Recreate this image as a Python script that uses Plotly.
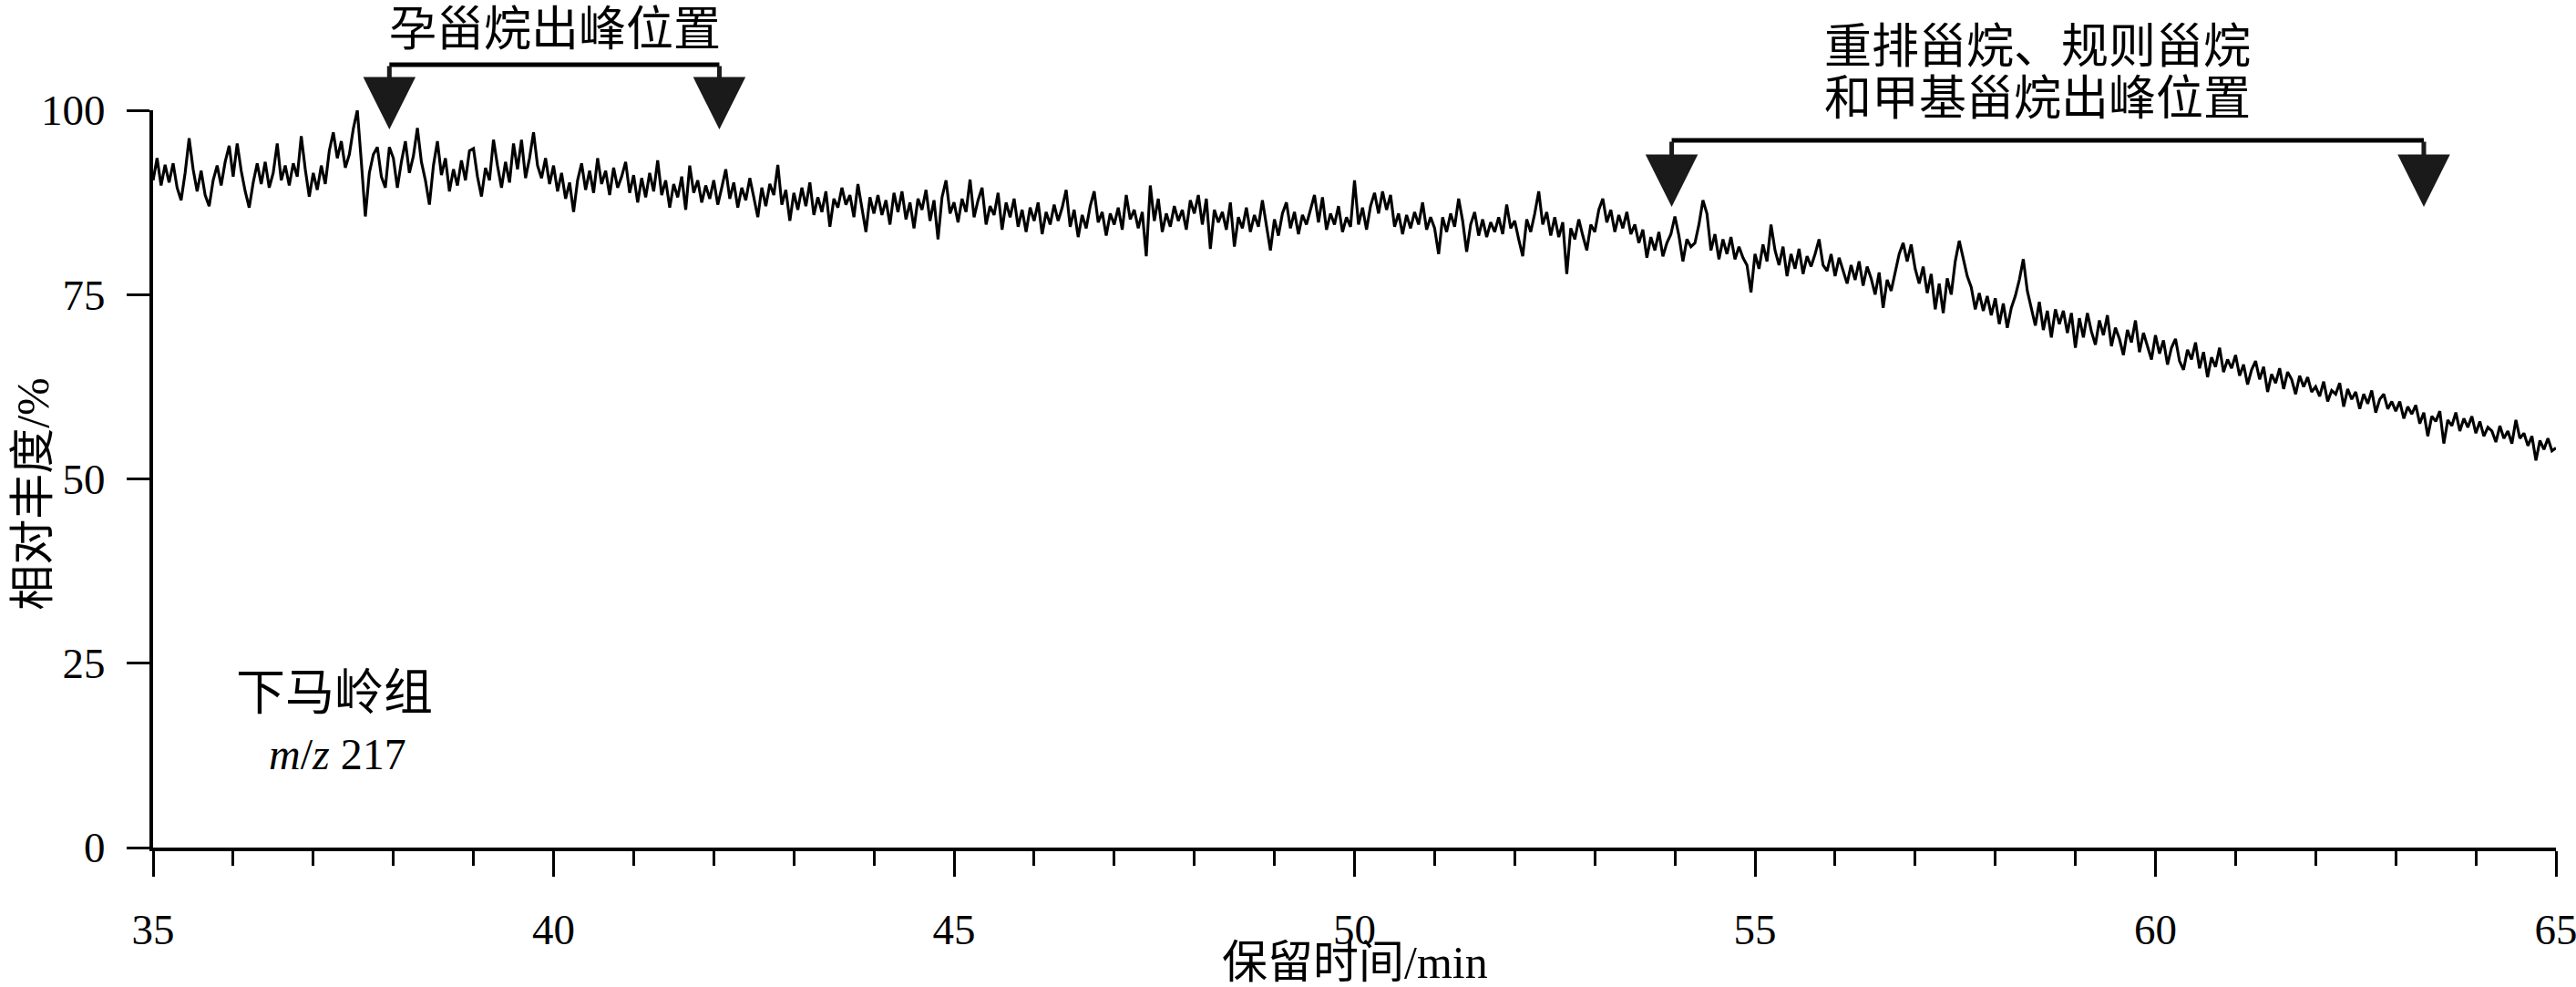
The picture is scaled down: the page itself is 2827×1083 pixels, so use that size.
import plotly.graph_objects as go

# ---------------- data ----------------
t_start = 35.0
t_step = 0.05

abundance = [
    # 35
    90.5, 93.5, 89.8, 92.6, 90.2, 92.8, 89.5, 87.8, 91.5, 96.2, 92.0, 89.0, 91.8, 88.5, 87.0, 90.5, 92.5, 89.8, 93.0, 95.2,
    # 36
    91.0, 95.5, 91.8, 89.0, 86.8, 90.2, 92.8, 90.0, 93.0, 89.5, 91.5, 95.5, 90.5, 92.5, 89.8, 92.8, 91.0, 96.5, 92.0, 88.3,
    # 37
    91.5, 89.2, 92.5, 90.0, 94.5, 97.0, 93.5, 95.8, 92.2, 94.0, 97.5, 100.0, 93.0, 85.6, 91.5, 94.0, 95.0, 91.0, 89.5, 95.0,
    # 38
    93.5, 89.5, 93.0, 95.8, 91.5, 93.8, 97.6, 93.0, 90.5, 87.2, 92.5, 95.8, 91.2, 93.5, 89.0, 92.0, 89.8, 93.2, 90.5, 94.5,
    # 39
    94.8, 91.0, 88.3, 92.2, 90.5, 96.0, 92.5, 89.5, 93.0, 90.2, 95.5, 92.0, 96.0, 90.8, 93.5, 97.0, 92.5, 90.8, 93.5, 90.0,
    # 40
    92.5, 89.0, 91.5, 88.0, 90.2, 86.2, 90.5, 92.8, 89.2, 91.8, 88.8, 93.5, 90.0, 91.8, 88.5, 92.2, 89.5, 91.0, 93.0, 88.8,
    # 41
    91.2, 87.5, 90.8, 88.2, 91.5, 89.0, 93.2, 88.5, 90.5, 86.8, 90.0, 88.2, 91.0, 86.5, 92.5, 88.8, 90.5, 87.5, 89.8, 88.0,
    # 42
    90.5, 87.2, 89.5, 92.0, 88.0, 90.2, 86.8, 89.5, 87.8, 90.8, 88.2, 85.5, 89.5, 87.0, 90.0, 88.5, 92.6, 87.2, 89.2, 85.0,
    # 43
    88.8, 86.5, 89.5, 87.0, 90.2, 85.8, 88.2, 86.2, 89.0, 84.2, 88.0, 86.8, 89.5, 87.2, 88.5, 85.5, 90.0, 86.5, 83.5, 88.2,
    # 44
    86.0, 88.5, 85.8, 87.8, 84.5, 88.8, 86.2, 89.0, 85.2, 87.5, 84.0, 88.0, 86.5, 89.2, 85.0, 87.8, 82.5, 88.2, 90.5, 86.0,
    # 45
    87.5, 84.8, 88.0, 86.2, 90.6, 85.5, 87.8, 89.5, 84.5, 87.0, 85.8, 88.8, 83.8, 87.5, 85.5, 88.0, 84.2, 86.5, 83.5, 86.8,
    # 46
    85.0, 87.5, 83.2, 86.2, 84.5, 87.2, 85.0, 86.8, 89.2, 84.2, 86.5, 82.8, 85.8, 84.0, 87.0, 89.0, 84.8, 86.2, 83.0, 86.0,
    # 47
    84.5, 86.8, 83.8, 88.5, 85.2, 86.5, 84.0, 86.2, 80.2, 89.8, 85.0, 88.0, 83.5, 86.0, 84.2, 87.0, 85.0, 86.5, 83.8, 87.8,
    # 48
    86.0, 88.5, 84.5, 88.0, 81.2, 86.5, 84.8, 86.2, 83.8, 87.5, 81.5, 85.5, 84.0, 86.8, 83.5, 85.8, 84.2, 87.8, 84.5, 81.0,
    # 49
    85.2, 83.0, 86.0, 87.5, 84.0, 86.2, 83.2, 85.8, 84.5, 86.5, 88.5, 84.8, 88.2, 83.8, 86.0, 84.5, 87.0, 83.5, 85.5, 84.2,
    # 50
    90.5, 84.5, 86.8, 83.8, 87.0, 88.8, 86.0, 89.0, 86.5, 88.5, 84.2, 86.0, 83.2, 85.8, 84.0, 86.2, 84.5, 87.5, 83.8, 85.5,
    # 51
    84.0, 80.5, 85.5, 83.5, 86.0, 84.2, 88.0, 85.0, 80.8, 84.5, 86.2, 83.0, 85.2, 82.8, 84.8, 83.5, 85.5, 83.2, 87.2, 84.0,
    # 52
    85.0, 82.5, 80.2, 85.2, 83.5, 86.0, 89.0, 84.5, 86.2, 83.0, 85.5, 82.8, 84.8, 77.8, 84.0, 82.5, 85.2, 83.0, 81.0, 84.5,
    # 53
    83.5, 86.5, 88.0, 84.8, 86.5, 83.5, 85.8, 84.0, 86.2, 83.2, 84.5, 82.0, 83.8, 80.0, 82.8, 81.0, 83.5, 80.2, 82.0, 83.2,
    # 54
    85.6, 83.0, 79.5, 82.5, 81.5, 82.0, 84.5, 87.8, 86.0, 81.0, 83.2, 79.8, 82.5, 80.5, 82.8, 79.8, 81.5, 80.0, 79.0, 75.3,
    # 55
    80.5, 78.5, 81.8, 79.5, 84.5, 81.0, 79.0, 81.5, 77.5, 80.5, 78.5, 81.2, 77.8, 80.2, 78.8, 80.5, 82.5, 79.0, 78.2, 80.5,
    # 56
    77.5, 80.0, 78.2, 76.5, 79.0, 77.0, 79.5, 76.2, 78.8, 77.2, 75.0, 78.0, 73.2, 77.0, 75.5, 78.0, 80.5, 82.0, 79.5, 81.8,
    # 57
    78.5, 76.5, 78.8, 75.2, 77.8, 73.0, 76.5, 72.5, 77.2, 75.0, 79.5, 82.3, 80.0, 77.5, 76.0, 73.0, 75.2, 72.8, 74.8, 72.2,
    # 58
    74.5, 71.0, 73.8, 70.5, 73.2, 74.8, 77.0, 79.8, 75.5, 73.0, 70.8, 74.0, 70.2, 72.8, 69.2, 73.0, 71.0, 72.8, 69.8, 72.5,
    # 59
    67.8, 71.8, 69.2, 72.5, 70.0, 68.2, 71.5, 69.5, 72.2, 68.0, 70.5, 69.0, 66.8, 70.2, 68.5, 71.5, 67.2, 69.8, 68.0, 66.2,
    # 60
    69.5, 67.0, 68.8, 65.5, 67.8, 69.0, 66.0, 64.8, 67.5, 66.2, 68.5, 65.0, 67.2, 63.8, 66.5, 65.2, 67.8, 64.5, 66.2, 65.0,
    # 61
    66.8, 64.0, 65.5, 62.8, 64.8, 66.0, 63.5, 65.2, 61.8, 64.2, 63.0, 65.0, 62.2, 64.5, 63.5, 61.5, 64.0, 62.5, 63.8, 61.8,
    # 62
    62.5, 61.2, 63.2, 60.5, 62.0, 61.5, 63.0, 59.8, 62.2, 60.8, 61.8, 59.5, 61.5, 60.2, 62.0, 59.0, 60.8, 61.5, 59.5, 60.5,
    # 63
    59.2, 60.5, 58.2, 59.8, 58.8, 60.0, 57.5, 59.0, 55.8, 58.5, 57.8, 59.2, 54.8, 58.0, 57.2, 59.0, 56.5, 58.2, 57.0, 58.5,
    # 64
    56.2, 57.8, 55.8, 57.0, 56.5, 55.0, 57.2, 55.5, 56.5, 54.8, 58.0, 55.5, 56.2, 54.5, 55.8, 52.5, 55.2, 54.0, 55.5, 53.8,
    # 65
    54.2,
]
retention_time = [round(t_start + i * t_step, 2) for i in range(len(abundance))]

x_ticks = [35, 40, 45, 50, 55, 60, 65]
y_ticks = [0, 25, 50, 75, 100]

label_pregnane = "孕甾烷出峰位置"
label_steranes_1 = "重排甾烷、规则甾烷"
label_steranes_2 = "和甲基甾烷出峰位置"
label_formation = "下马岭组"
label_mz = "<i>m</i>/<i>z</i> 217"
x_title = "保留时间/min"
y_title = "相对丰度/%"

# bracket extents (retention time, min)
pregnane_range = [37.95, 42.07]
sterane_range = [53.96, 63.35]

# ---------------- figure ----------------
FONT = "Liberation Serif, Times New Roman, Noto Sans CJK SC"
CJK = "Liberation Serif, Noto Sans CJK SC"
PLOT_H = 809  # plot area height in px (for pixel arrow lengths)

fig = go.Figure()
fig.add_trace(go.Scatter(
    x=retention_time, y=abundance, mode="lines",
    line=dict(color="black", width=3.1), hoverinfo="skip", showlegend=False,
))

axis_common = dict(
    showline=True, linecolor="black", linewidth=4, showgrid=False, zeroline=False,
    ticks="outside", tickcolor="black", tickwidth=3, automargin=False,
    tickfont=dict(family=FONT, size=47, color="black"),
)

fig.update_xaxes(
    range=[35, 65], tickvals=x_ticks, ticklen=28, ticklabelstandoff=18,
    ticklabeloverflow="allow",
    minor=dict(dtick=1, tick0=35, ticks="outside", ticklen=16, tickwidth=3, tickcolor="black"),
    **axis_common,
)
fig.update_yaxes(
    range=[0, 100], tickvals=y_ticks, ticklen=25, ticklabelstandoff=14,
    **axis_common,
)

shapes = []
annotations = []

def add_bracket(xr, y_top, y_tip):
    shapes.append(dict(type="line", xref="x", yref="paper",
                       x0=xr[0], x1=xr[1], y0=y_top, y1=y_top,
                       line=dict(color="black", width=5)))
    px = (y_top - y_tip) * PLOT_H
    for xv in xr:
        annotations.append(dict(
            x=xv, y=y_tip, xref="x", yref="paper", text="",
            showarrow=True, ax=0, ay=-px, axref="pixel", ayref="pixel",
            arrowhead=2, arrowsize=2.3, arrowwidth=5, arrowcolor="#1a1a1a",
            standoff=0,
        ))

add_bracket(pregnane_range, 1.0618, 0.974)
add_bracket(sterane_range, 0.9592, 0.869)

def text(x, y, s, size, xref="x", yref="paper", angle=0):
    annotations.append(dict(
        x=x, y=y, xref=xref, yref=yref, text=s, showarrow=False,
        textangle=angle, xanchor="center", yanchor="middle",
        font=dict(family=CJK, size=size, color="black"),
    ))

text(40.02, 1.109, label_pregnane, 52)
text(58.53, 1.0853, label_steranes_1, 52)
text(58.53, 1.016, label_steranes_2, 52)
text(37.26, 0.209, label_formation, 54)
text(37.3, 0.127, label_mz, 48)
text(0.5, -0.156, x_title, 50, xref="paper")
text(-0.05, 0.48, y_title, 50, xref="paper", angle=-90)

fig.update_layout(
    width=2827, height=1083,
    margin=dict(l=168, r=22, t=121, b=153, autoexpand=False),
    paper_bgcolor="white", plot_bgcolor="white",
    shapes=shapes, annotations=annotations,
    showlegend=False,
)

# remove the default 8px page margin so the figure fills the window exactly
fig.write_html(
    "out.html",
    config={"displayModeBar": False},
    post_script="document.body.style.margin='0';document.body.style.overflow='hidden';",
)
